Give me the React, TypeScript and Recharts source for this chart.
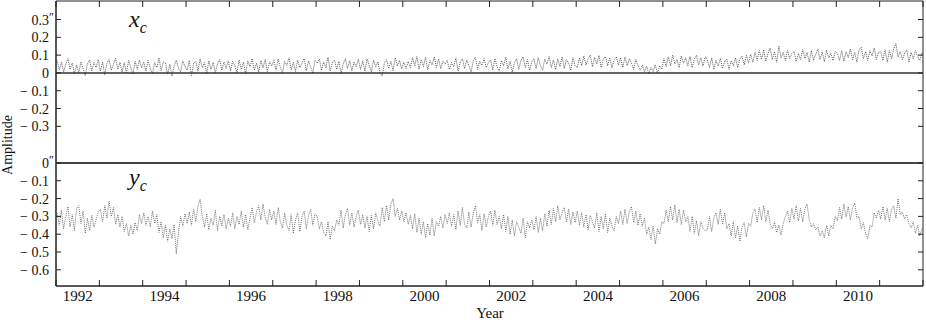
import {
  ComposedChart,
  Line,
  XAxis,
  YAxis,
  ReferenceLine,
  ReferenceArea,
} from 'recharts';

// pole offsets in milliarcseconds, 20 samples per year (1992.0 .. 2011.95)
const xcMas = [
  70, 15, 60, 5, 48, 80, 20, 55, -5, 45, 0, 62, 25, -15, 50, 72, 10, 58, 30, 75, // 1992
  10, 62, -12, 55, 75, 15, 48, 82, 20, 60, 5, 58, -2, 70, 30, -8, 65, 20, 72, 28, // 1993
  60, 10, 70, 25, -5, 58, 30, 85, 12, 62, 55, -8, 48, -18, 40, 72, 25, 5, 68, 35, // 1994
  15, 70, -15, 55, 65, 10, 78, 30, 58, -5, 68, 20, 60, 0, 50, 75, 15, 62, 25, 68, // 1995
  12, 65, 40, 0, 72, 20, 60, -8, 68, 35, 80, 15, 55, 5, 70, 28, 75, 8, 62, 40, // 1996
  70, 15, 78, 30, 0, 65, 42, 85, 18, 60, 8, 72, 30, 55, 80, 12, 68, 35, -2, 70, // 1997
  55, 78, 15, 62, 28, 88, 10, 58, 72, 20, 65, -5, 50, 80, 25, 68, 12, 62, 35, 75, // 1998
  20, 68, 10, 78, 45, 5, 72, 35, 62, 0, -18, 55, 75, 25, 65, 12, 85, 40, 70, 22, // 1999
  60, 25, 65, 30, 85, 40, 92, 20, 75, 35, 88, 18, 70, 45, 90, 30, 78, 25, 65, 50, // 2000
  70, 20, 58, 35, 85, 10, 62, 80, 25, 72, 40, 5, 68, 88, 20, 65, 42, 80, 30, 58, // 2001
  72, 18, 80, 35, 10, 70, 40, 88, 22, 65, 5, 58, 80, 20, 70, 90, 30, 75, 15, 62, // 2002
  80, 25, 85, 40, 15, 78, 50, 92, 30, 72, 18, 80, 35, 90, 25, 75, 55, 15, 85, 40, // 2003
  30, 85, 40, 95, 45, 80, 100, 35, 88, 50, 98, 30, 78, 92, 40, 85, 28, 75, 90, 45, // 2004
  85, 30, 90, 40, 80, 55, 20, 75, 42, 15, 45, 5, 38, -5, 30, 8, 45, 0, 40, 20, // 2005
  80, 35, 90, 40, 100, 50, 75, 30, 95, 55, 85, 40, 92, 30, 78, 100, 45, 85, 38, 90, // 2006
  75, 30, 85, 20, 70, 38, 82, 25, 65, 78, 20, 68, 40, 85, 30, 78, 95, 45, 98, 55, // 2007
  105, 60, 115, 70, 125, 75, 130, 65, 110, 140, 75, 120, 60, 150, 85, 115, 70, 125, 80, 110, // 2008
  120, 65, 110, 75, 130, 80, 115, 60, 125, 70, 105, 135, 75, 118, 62, 128, 85, 110, 70, 120, // 2009
  110, 70, 125, 65, 120, 85, 135, 75, 115, 60, 130, 145, 80, 120, 70, 125, 95, 140, 75, 115, // 2010
  120, 70, 130, 60, 125, 80, 135, 165, 90, 120, 75, 110, 130, 60, 115, 80, 125, 95, 70, 115, // 2011
];

const ycMas = [
  -280, -350, -265, -370, -300, -245, -360, -290, -380, -255, -240, -340, -270, -395, -310, -380, -295, -360, -320, -275, // 1992
  -260, -330, -240, -310, -215, -300, -250, -345, -290, -360, -300, -385, -340, -410, -350, -400, -335, -380, -290, -340, // 1993
  -280, -350, -300, -360, -270, -340, -290, -390, -330, -420, -350, -440, -370, -425, -345, -510, -390, -300, -355, -285, // 1994
  -340, -275, -350, -260, -330, -240, -205, -300, -360, -285, -375, -310, -350, -265, -380, -300, -355, -290, -370, -310, // 1995
  -355, -280, -370, -300, -345, -270, -360, -290, -375, -310, -250, -335, -275, -240, -320, -230, -305, -345, -260, -320, // 1996
  -270, -345, -250, -330, -365, -280, -350, -380, -290, -395, -320, -280, -385, -300, -270, -370, -295, -260, -350, -285, // 1997
  -300, -370, -330, -390, -410, -330, -430, -355, -380, -320, -350, -265, -365, -290, -255, -350, -280, -360, -300, -265, // 1998
  -345, -290, -365, -300, -385, -295, -370, -280, -325, -355, -250, -330, -240, -320, -230, -200, -300, -255, -320, -270, // 1999
  -330, -280, -345, -295, -370, -285, -390, -310, -400, -330, -420, -340, -405, -310, -410, -330, -355, -300, -365, -290, // 2000
  -340, -280, -355, -290, -375, -270, -350, -250, -345, -365, -275, -360, -285, -240, -335, -290, -380, -285, -360, -300, // 2001
  -270, -350, -265, -345, -300, -370, -290, -385, -300, -400, -320, -410, -330, -360, -395, -310, -420, -330, -365, -320, // 2002
  -375, -300, -390, -310, -380, -285, -355, -265, -345, -255, -330, -240, -320, -280, -250, -330, -260, -345, -275, -335, // 2003
  -270, -350, -280, -360, -290, -375, -295, -330, -365, -280, -385, -300, -370, -285, -390, -310, -355, -380, -300, -340, // 2004
  -270, -345, -260, -340, -275, -245, -335, -270, -350, -285, -355, -310, -400, -360, -430, -355, -455, -370, -400, -330, // 2005
  -340, -265, -330, -245, -320, -235, -335, -260, -345, -265, -330, -300, -385, -300, -395, -325, -410, -330, -365, -380, // 2006
  -375, -300, -385, -310, -280, -345, -260, -345, -280, -370, -340, -410, -330, -420, -355, -440, -360, -335, -415, -340, // 2007
  -355, -280, -260, -335, -250, -320, -240, -330, -265, -345, -370, -330, -390, -350, -405, -340, -300, -270, -335, -255, // 2008
  -315, -240, -325, -255, -330, -260, -230, -320, -360, -340, -375, -360, -410, -380, -420, -350, -410, -350, -370, -300, // 2009
  -325, -250, -315, -230, -305, -245, -320, -250, -225, -310, -300, -370, -335, -395, -425, -350, -360, -280, -310, -265, // 2010
  -315, -245, -320, -255, -330, -260, -240, -310, -200, -290, -275, -315, -290, -340, -365, -330, -395, -350, -410, -365, // 2011
];

const YEAR_TICKS = [
  1992, 1993, 1994, 1995, 1996, 1997, 1998, 1999, 2000, 2001, 2002,
  2003, 2004, 2005, 2006, 2007, 2008, 2009, 2010, 2011, 2012,
];
const YEAR_LABELS = [
  '1992', '1994', '1996', '1998', '2000', '2002', '2004', '2006', '2008', '2010',
];

// top panel (x_c) is drawn shifted up by this many mas
const OFFSET = 506;
const Y_TICKS = [806, 706, 606, 506, 406, 306, 206, 0, -100, -200, -300, -400, -500, -600];
const Y_LABELS = [
  '0.3', '0.2', '0.1', '0', '\u2212 0.1', '\u2212 0.2', '\u2212 0.3',
  '0', '\u2212 0.1', '\u2212 0.2', '\u2212 0.3', '\u2212 0.4', '\u2212 0.5', '\u2212 0.6',
];
const Y_PRIME = [true, false, false, false, false, false, false, true, false, false, false, false, false, false];

const data = xcMas.map((v, i) => ({
  t: 1992 + i * 0.05 + 0.025,
  x: v + OFFSET,
  y: ycMas[i],
}));

const W = 926;
const H = 320;
const LEFT = 56;
const RIGHT = 923;
const TOP = 1;
const BOTTOM = 286;
const HALF_YEAR = (RIGHT - LEFT) / 20 / 2;
const FONT = '"Liberation Serif", "DejaVu Serif", serif';
const INK = '#222';

function YTick(props: any) {
  const { y, payload } = props;
  const i = Y_TICKS.indexOf(payload.value);
  return (
    <g>
      <line x1={LEFT} x2={LEFT + 5} y1={y} y2={y} stroke={INK} />
      <line x1={RIGHT - 5} x2={RIGHT} y1={y} y2={y} stroke={INK} />
      <text x={49} y={y + 5} textAnchor="end" fontSize={14} fontFamily={FONT} fill="#111">
        {Y_LABELS[i]}
      </text>
      {Y_PRIME[i] && (
        <text x={49} y={y + 1} fontSize={12} fontFamily={FONT} fill="#111">
          {'\u2033'}
        </text>
      )}
    </g>
  );
}

function XTick(props: any) {
  const { x, payload } = props;
  const label = String(payload.value);
  return (
    <g>
      <line x1={x} x2={x} y1={BOTTOM} y2={BOTTOM - 6} stroke={INK} />
      <line x1={x} x2={x} y1={TOP} y2={TOP + 6} stroke={INK} />
      {YEAR_LABELS.includes(label) && (
        <text x={x + HALF_YEAR} y={301} textAnchor="middle" fontSize={15} fontFamily={FONT} fill="#111">
          {label}
        </text>
      )}
    </g>
  );
}

export default function App() {
  return (
    <div style={{ position: 'absolute', left: 0, top: 0, width: W, height: H, background: '#fff' }}>
      <ComposedChart width={W} height={H} data={data} margin={{ top: TOP, right: W - RIGHT, bottom: 0, left: 0 }}>
        <XAxis
          dataKey="t"
          type="number"
          domain={[1992, 2012]}
          ticks={YEAR_TICKS}
          interval={0}
          height={H - BOTTOM}
          tickLine={false}
          axisLine={{ stroke: INK }}
          tick={<XTick />}
        />
        <YAxis
          type="number"
          domain={[-691, 910]}
          ticks={Y_TICKS}
          interval={0}
          width={LEFT}
          tickLine={false}
          axisLine={{ stroke: INK }}
          tick={<YTick />}
        />
        <ReferenceArea x1={1992} x2={2012} y1={-691} y2={910} fill="none" stroke={INK} />
        <ReferenceLine y={OFFSET} stroke="#333" strokeWidth={1.5} />
        <ReferenceLine y={0} stroke="#444" strokeWidth={2} />
        <Line
          dataKey="x"
          dot={false}
          stroke="#2a2a2a"
          strokeWidth={0.75}
          strokeDasharray="1 1"
          isAnimationActive={false}
        />
        <Line
          dataKey="y"
          dot={false}
          stroke="#4a4a4a"
          strokeWidth={0.75}
          strokeDasharray="1 1"
          isAnimationActive={false}
        />
      </ComposedChart>
      <div style={{ position: 'absolute', left: 129, top: 6, fontFamily: FONT, fontStyle: 'italic', fontSize: 24, color: '#111' }}>
        x<sub style={{ fontSize: 16 }}>c</sub>
      </div>
      <div style={{ position: 'absolute', left: 129, top: 164, fontFamily: FONT, fontStyle: 'italic', fontSize: 24, color: '#111' }}>
        y<sub style={{ fontSize: 16 }}>c</sub>
      </div>
      <div
        style={{
          position: 'absolute',
          left: 8,
          top: 145,
          transform: 'translate(-50%, -50%) rotate(-90deg)',
          fontFamily: FONT,
          fontSize: 14,
          color: '#111',
          whiteSpace: 'nowrap',
        }}
      >
        Amplitude
      </div>
      <div style={{ position: 'absolute', left: 490, top: 313, transform: 'translate(-50%, -50%)', fontFamily: FONT, fontSize: 15, color: '#111' }}>
        Year
      </div>
    </div>
  );
}
